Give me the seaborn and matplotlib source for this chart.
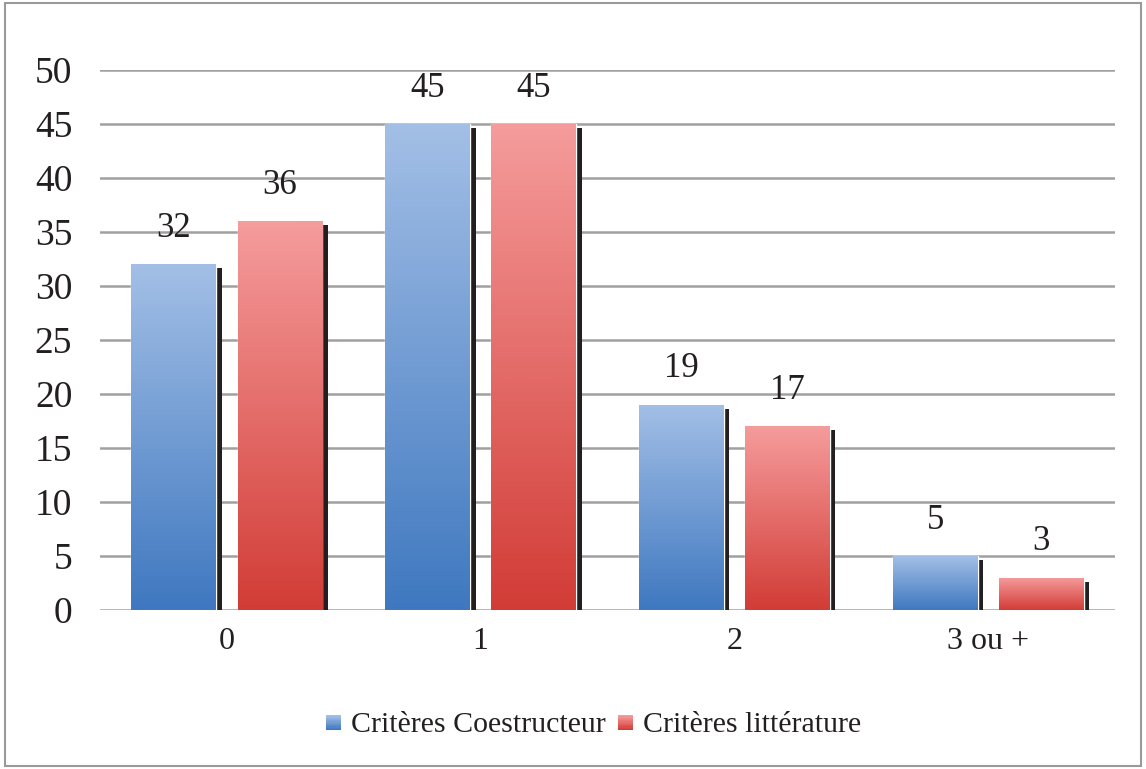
import numpy as np
import pandas as pd
import seaborn as sns
import matplotlib.pyplot as plt
from matplotlib.patches import Rectangle
from matplotlib.colors import LinearSegmentedColormap
from matplotlib.legend_handler import HandlerBase

categories = ['0', '1', '2', '3 ou +']
series_names = ['Critères Coestructeur', 'Critères littérature']
coestructeur = [32, 45, 19, 5]
litterature = [36, 45, 17, 3]
yticks = [0, 5, 10, 15, 20, 25, 30, 35, 40, 45, 50]

df = pd.DataFrame({
    'categorie': categories * 2,
    'valeur': coestructeur + litterature,
    'serie': [series_names[0]] * 4 + [series_names[1]] * 4,
})

# (haut, bas) du dégradé de chaque série
grad = {
    series_names[0]: ('#a3bfe6', '#3f78c0'),
    series_names[1]: ('#f59c9c', '#d23c36'),
}
mid = {series_names[0]: '#6e9bd3', series_names[1]: '#e76a66'}
cmaps = {s: LinearSegmentedColormap.from_list(s, [grad[s][1], grad[s][0]]) for s in series_names}


class GradientHandler(HandlerBase):
    # petit carré en dégradé pour la légende
    def __init__(self, cmap):
        super().__init__()
        self.cmap = cmap

    def create_artists(self, legend, orig_handle, xdescent, ydescent,
                       width, height, fontsize, trans):
        n = 12
        side = min(width, height * 1.15)
        arts = []
        for k in range(n):
            r = Rectangle((-xdescent, -ydescent + k * side / n), side, side / n + 0.3,
                          facecolor=self.cmap(k / (n - 1)), edgecolor='none',
                          transform=trans)
            arts.append(r)
        return arts


sns.set_style('white')
plt.rcParams['font.family'] = ['Liberation Serif', 'DejaVu Serif']

fig = plt.figure(figsize=(11.46, 7.69), dpi=100)
ax = fig.add_axes([0.0873, 0.2068, 0.8857, 0.7022])

sns.barplot(data=df, x='categorie', y='valeur', hue='serie', order=categories,
            hue_order=series_names, palette=mid, width=0.836, gap=0.2,
            ax=ax, legend=False, zorder=3)

ax.set_ylim(0, 50)
ax.set_xlim(-0.5, 3.5)
ax.set_yticks(yticks)
ax.grid(axis='y', color='#a0a0a0', linewidth=1.8, zorder=0)
ax.grid(axis='x', visible=False)
for s in ax.spines.values():
    s.set_visible(False)
ax.tick_params(axis='y', length=0, pad=20, labelsize=27, labelcolor='#231f20')
ax.tick_params(axis='x', length=0, pad=12, labelsize=23, labelcolor='#231f20')
ax.set_xlabel('')
ax.set_ylabel('')

# taille d'un pixel en unités de données
px_x = 4.0 / (0.8857 * 1146)
px_y = 50.0 / (0.7022 * 769)

bars = list(ax.patches)
for i, p in enumerate(bars):
    serie = series_names[i // len(categories)]
    x0, w, h = p.get_x(), p.get_width(), p.get_height()
    # ombre noire décalée
    ax.add_patch(Rectangle((x0 + 5.5 * px_x, 0), w, h - 4 * px_y,
                           facecolor='#231f20', edgecolor='none', zorder=2))
    # dégradé vertical dans la barre
    img = ax.imshow(np.linspace(0, 1, 256).reshape(-1, 1), cmap=cmaps[serie],
                    extent=[x0, x0 + w, 0, h], origin='lower', aspect='auto',
                    zorder=4)
    img.set_clip_path(p)
    ax.annotate(f'{h:.0f}', (x0 + w / 2, h), xytext=(0, 14), textcoords='offset points',
                ha='center', va='bottom', fontsize=25, color='#231f20',
                annotation_clip=False)

ax.set_ylim(0, 50)
ax.set_xlim(-0.5, 3.5)

handles = [Rectangle((0, 0), 1, 1, facecolor=mid[s], edgecolor='none') for s in series_names]
fig.legend(handles, series_names, loc='center', bbox_to_anchor=(0.518, 0.057),
           ncol=2, frameon=False, fontsize=21.5, handlelength=0.5, handleheight=0.5,
           handletextpad=0.35, columnspacing=0.4, labelcolor='#231f20',
           handler_map={h: GradientHandler(cmaps[s]) for h, s in zip(handles, series_names)})

fig.patches.append(Rectangle((0.004, 0.004), 0.992, 0.992, transform=fig.transFigure,
                             fill=False, edgecolor='#9a9a9a', linewidth=1.5))

fig.savefig('out.png', dpi=100)
